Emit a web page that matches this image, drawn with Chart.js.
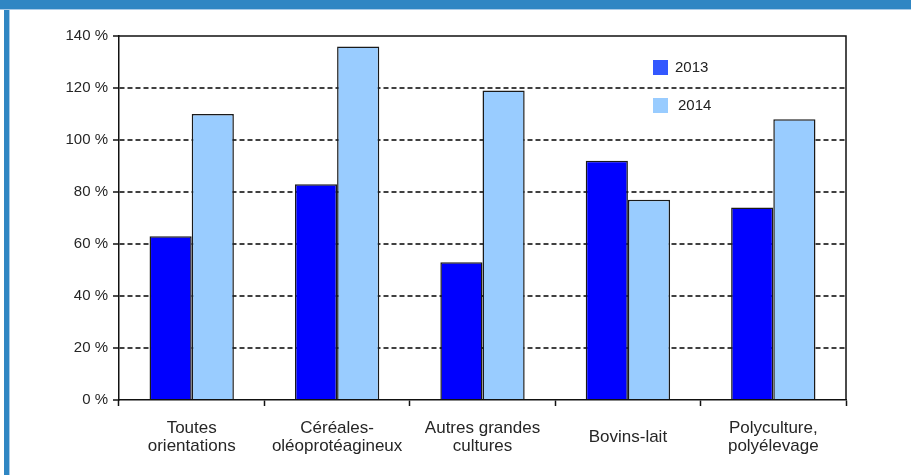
<!DOCTYPE html>
<html>
<head>
<meta charset="utf-8">
<script src="https://cdn.jsdelivr.net/npm/chart.js@4/dist/chart.umd.min.js"></script>
<style>
  html, body { margin: 0; padding: 0; background: #fff; }
  #wrap { position: absolute; left: 0; top: 0; width: 911px; height: 475px; }
  /* blue frame on top and left */
  #topBar { position: absolute; left: 0; top: 0; width: 911px; height: 9px; background: #2f86c3; border-bottom: 1px solid #a9cbe7; }
  #leftBar { position: absolute; left: 4px; top: 0; width: 5px; height: 475px; background: #2f86c3; border-right: 1px solid #a9cbe7; }
</style>
</head>
<body>
<div id="wrap"><canvas id="myChart"></canvas></div>
<div id="leftBar"></div>
<div id="topBar"></div>
<script>
// Categories (one array per label, one entry per line)
var categories = [
  ["Toutes", "orientations"],
  ["Céréales-", "oléoprotéagineux"],
  ["Autres grandes", "cultures"],
  ["Bovins-lait"],
  ["Polyculture,", "polyélevage"]
];

// Series values, in percent
var values2013 = [63, 83, 53, 92, 74];
var values2014 = [110, 136, 119, 77, 108];

// Y tick values
var yTicks = [0, 20, 40, 60, 80, 100, 120, 140];

const FONT = "'Liberation Sans', Arial, sans-serif";

// Draws the top/right frame of the plot, the legend and the category labels
const decorPlugin = {
  id: "decor",
  afterDatasetsDraw(chart) {
    const ctx = chart.ctx;
    const area = chart.chartArea;
    ctx.save();
    ctx.strokeStyle = "#111";
    ctx.lineWidth = 1.5;
    ctx.beginPath();
    ctx.moveTo(area.left, area.top);
    ctx.lineTo(area.right, area.top);
    ctx.lineTo(area.right, area.bottom);
    ctx.stroke();
    ctx.restore();
  },
  afterDraw(chart) {
    const ctx = chart.ctx;
    const area = chart.chartArea;
    const xScale = chart.scales.x;

    // legend
    ctx.save();
    ctx.font = "15px " + FONT;
    ctx.textBaseline = "middle";
    const legendRows = [
      { y: 68, box: "#3358ff", textX: 675 },
      { y: 106, box: null, textX: 678 }
    ];
    chart.data.datasets.forEach(function (ds, i) {
      const row = legendRows[i];
      ctx.fillStyle = row.box || ds.backgroundColor;
      ctx.fillRect(area.left + 534, row.y - 8, 15, 15);
      ctx.fillStyle = "#222";
      ctx.textAlign = "left";
      ctx.fillText(ds.label, row.textX, row.y);
    });

    // category labels, centred vertically on a common middle line
    ctx.font = "17px " + FONT;
    ctx.fillStyle = "#262626";
    ctx.textAlign = "center";
    ctx.textBaseline = "alphabetic";
    const lineH = 17.7;
    chart.data.labels.forEach(function (lines, i) {
      const x = xScale.getPixelForValue(i);
      const first = area.bottom + 42 - (lines.length - 1) * lineH / 2;
      lines.forEach(function (t, k) {
        ctx.fillText(t, x, first + k * lineH);
      });
    });
    ctx.restore();
  }
};

const data = {
  labels: categories,
  datasets: [
    {
      label: "2013",
      data: values2013,
      backgroundColor: "#0000ff",
      borderColor: "#1a1a1a",
      borderWidth: 1.5
    },
    {
      label: "2014",
      data: values2014,
      backgroundColor: "#99ccff",
      borderColor: "#1a1a1a",
      borderWidth: 1.5
    }
  ]
};

const config = {
  type: "bar",
  data: data,
  options: {
    responsive: true,
    maintainAspectRatio: false,
    animation: false,
    layout: { padding: { top: 36, right: 65, left: 0, bottom: 0 } },
    datasets: {
      bar: { categoryPercentage: 0.58, barPercentage: 1.0 }
    },
    plugins: {
      legend: { display: false },
      tooltip: { enabled: false }
    },
    scales: {
      x: {
        offset: true,
        afterFit(scale) { scale.height = 75; },
        ticks: { display: false },
        grid: {
          offset: true,
          drawOnChartArea: false,
          drawTicks: true,
          tickLength: 6,
          tickColor: "#111",
          tickWidth: 1.5
        },
        border: { display: true, color: "#111", width: 1.5 }
      },
      y: {
        min: 0,
        max: 140,
        afterFit(scale) { scale.width = 119; },
        afterBuildTicks(scale) {
          scale.ticks = yTicks.map(function (v) { return { value: v }; });
        },
        ticks: {
          padding: 5,
          color: "#262626",
          font: { family: FONT, size: 15 },
          callback: function (v) { return v + " %"; }
        },
        grid: {
          color: function (c) {
            const v = c.tick ? c.tick.value : null;
            return (v === 0 || v === 140) ? "rgba(0,0,0,0)" : "#404040";
          },
          lineWidth: 2,
          drawTicks: true,
          tickLength: 6,
          tickColor: "#111",
          tickWidth: 1.5
        },
        border: { display: true, color: "#111", width: 1.5, dash: [5, 3] }
      }
    }
  },
  plugins: [decorPlugin]
};

const myChart = new Chart(document.getElementById("myChart").getContext("2d"), config);
</script>
</body>
</html>
